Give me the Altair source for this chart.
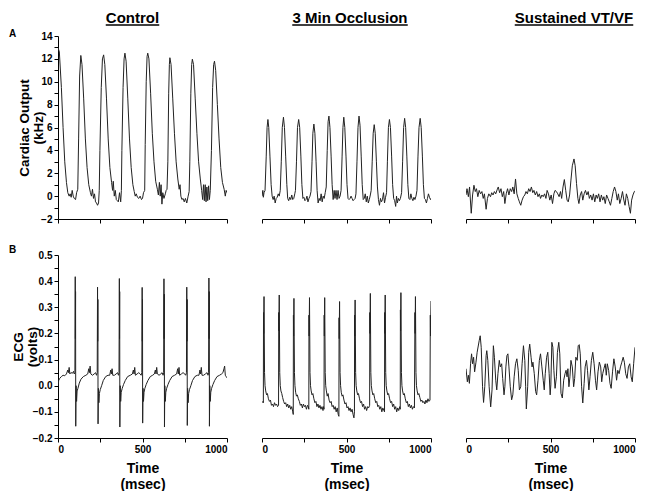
import altair as alt
import pandas as pd

FONT = "Liberation Sans"
LINE = "#222222"

# ---- Cardiac output (kHz) traces: (time ms, value) ----
co_control = [(0,13.0),(8,12.6),(20,9.5),(30,6.0),(40,3.0),(50,1.2),(58,0.3),(66,0.0),(72,0.2),(78,-0.1),(84,0.5),(90,0.0),(96,-0.2),(104,-0.3),(110,0.3),(117,0.6),(122,5.0),(128,10.5),(135,12.3),(142,11.5),(152,8.5),(162,5.0),(172,2.5),(182,1.0),(192,0.3),(198,0.0),(204,0.6),(210,-0.2),(216,0.2),(222,-0.5),(228,-0.6),(234,-0.8),(240,-0.6),(244,0.5),(248,4.0),(256,9.5),(263,12.0),(270,12.35),(277,11.5),(287,8.5),(297,5.0),(307,2.5),(317,1.2),(323,0.5),(327,1.3),(333,0.0),(339,0.5),(345,-0.3),(351,-0.4),(357,-0.5),(364,0.3),(371,-0.5),(375,0.5),(378,4.0),(385,9.5),(391,12.0),(396,12.5),(403,11.8),(413,8.5),(423,5.0),(433,2.5),(443,1.0),(451,0.4),(457,0.0),(463,0.2),(470,-0.1),(478,-0.2),(486,0.0),(494,-0.3),(500,-0.2),(506,0.3),(513,0.5),(516,4.5),(522,10.0),(527,12.2),(531,12.5),(538,12.0),(548,9.0),(558,5.5),(568,3.0),(578,1.3),(588,0.6),(594,0.1),(600,1.2),(605,0.0),(610,1.0),(615,-0.7),(620,0.3),(627,-0.2),(635,0.2),(640,0.5),(645,0.6),(650,3.0),(655,9.0),(659,11.5),(662,12.1),(669,11.5),(679,8.5),(689,5.5),(699,3.0),(709,1.5),(717,0.6),(722,1.0),(727,0.0),(733,-0.3),(740,-0.2),(747,-0.5),(754,-0.2),(762,-0.6),(770,0.0),(776,0.4),(780,3.0),(786,9.0),(791,11.5),(795,11.97),(802,11.5),(812,8.5),(822,5.5),(832,3.0),(842,1.5),(850,0.5),(856,-0.3),(861,1.0),(866,-0.4),(871,1.0),(876,-0.5),(881,0.8),(886,-0.4),(891,0.9),(896,-0.3),(901,0.5),(908,4.0),(915,9.5),(921,11.5),(926,11.8),(933,11.0),(943,8.0),(953,5.0),(963,2.5),(973,1.2),(983,0.6),(990,0.0),(995,0.5),(1000,0.3)]

co_occlusion = [(0,0.0),(5,0.5),(8,-0.1),(12,0.3),(18,0.5),(25,3.5),(30,6.0),(35,6.7),(40,6.0),(47,3.5),(54,1.0),(60,0.0),(66,-0.3),(72,0.0),(78,-0.6),(84,-0.2),(90,-0.1),(96,0.2),(102,0.0),(108,0.5),(114,3.0),(120,6.0),(127,6.9),(133,6.0),(140,3.5),(147,1.0),(152,-0.2),(158,-0.4),(164,-0.1),(170,-0.3),(176,0.1),(182,-0.3),(188,-0.2),(194,0.2),(198,0.5),(204,3.0),(210,6.0),(217,6.7),(223,6.0),(230,3.5),(236,1.0),(242,-0.2),(248,-0.1),(254,-0.4),(260,-0.3),(266,0.0),(272,-0.5),(278,-0.2),(284,0.0),(290,0.4),(296,3.0),(301,5.5),(307,6.3),(313,5.5),(320,3.0),(326,0.5),(332,-0.6),(338,-0.2),(344,-0.4),(350,0.2),(356,-0.5),(362,0.0),(368,-0.2),(374,0.3),(380,0.8),(386,4.0),(391,6.5),(396,7.0),(402,6.0),(409,3.5),(415,1.0),(421,-0.3),(427,0.5),(432,-0.2),(438,0.5),(444,-0.3),(450,0.5),(456,-0.2),(462,0.0),(468,0.5),(474,3.5),(479,6.0),(484,6.9),(490,6.0),(497,3.5),(503,1.0),(509,-0.2),(515,-0.3),(521,-0.2),(527,0.0),(533,-0.2),(539,-0.4),(545,-0.3),(551,-0.2),(556,0.2),(562,3.0),(568,6.0),(574,7.0),(580,6.2),(587,3.5),(593,1.0),(599,-0.3),(605,-0.2),(611,0.2),(617,-0.5),(623,0.0),(629,-0.6),(635,-0.3),(641,0.1),(646,0.5),(652,3.0),(658,5.5),(664,6.25),(670,5.5),(677,3.0),(683,0.8),(689,-0.3),(695,-0.8),(701,-0.2),(707,-0.5),(713,-0.3),(719,0.3),(725,-0.6),(731,-0.1),(737,0.3),(742,3.0),(748,6.0),(754,6.7),(760,6.0),(767,3.5),(773,1.0),(779,-0.2),(785,-0.4),(791,-0.9),(796,0.0),(801,-0.6),(807,-0.2),(813,-0.4),(819,-0.2),(826,0.3),(832,3.0),(838,6.0),(844,6.8),(850,6.0),(857,3.5),(863,1.0),(869,-0.2),(875,-0.3),(881,0.2),(887,-0.2),(893,-0.4),(899,-0.1),(905,-0.3),(911,0.0),(917,0.5),(923,3.5),(929,6.0),(936,6.8),(942,6.0),(949,3.5),(955,1.0),(961,-0.2),(967,-0.3),(973,-0.6),(979,-0.2),(985,0.2),(991,-0.1),(997,-0.3),(1000,-0.2)]

co_vtvf = [(0,0.1),(6,0.65),(14,-0.05),(21,0.8),(31,-1.5),(39,0.1),(47,0.95),(55,0.4),(62,0.65),(70,-0.05),(78,0.5),(86,0.2),(94,0.4),(102,-0.2),(109,0.2),(119,-1.15),(127,-0.2),(135,0.2),(145,-0.05),(152,0.3),(160,0.1),(168,0.4),(176,0.2),(184,0.55),(191,0.8),(199,0.3),(207,0.65),(215,-0.05),(223,0.4),(230,-0.65),(238,0.2),(246,0.65),(254,0.1),(262,0.65),(270,0.4),(277,0.8),(285,0.2),(293,1.5),(301,0.2),(309,-0.2),(316,-0.5),(324,-0.8),(332,-0.35),(340,-0.05),(348,0.1),(355,0.4),(363,0.2),(371,0.65),(379,0.4),(387,0.8),(395,0.3),(402,0.5),(410,0.1),(418,0.4),(426,-0.05),(434,0.2),(441,-0.2),(449,0.1),(457,-0.05),(465,0.2),(473,-0.2),(480,0.5),(488,0.2),(496,-0.35),(504,0.1),(512,-0.65),(520,0.2),(527,0.5),(535,0.4),(543,0.2),(551,-0.05),(559,0.4),(566,-0.2),(574,0.8),(582,1.45),(590,0.5),(598,-0.35),(605,-0.5),(613,0.1),(621,1.4),(629,2.65),(639,3.25),(646,2.65),(654,1.1),(662,-0.2),(668,-0.65),(676,0.1),(684,0.4),(691,-0.35),(699,0.2),(707,0.5),(715,0.1),(723,0.4),(730,-0.2),(738,0.1),(746,-0.35),(754,0.2),(762,-0.5),(770,0.1),(777,-0.2),(785,0.2),(793,-0.5),(801,0.1),(809,-0.35),(816,-0.05),(824,-0.65),(832,0.1),(840,-0.2),(848,-0.5),(855,-0.8),(863,-0.2),(871,0.4),(879,0.8),(887,0.4),(895,-0.35),(902,0.2),(910,-0.65),(918,-0.2),(926,0.4),(934,-0.35),(941,-0.8),(949,0.2),(957,-0.2),(965,-0.9),(973,-1.5),(980,-0.35),(988,0.1),(996,0.4),(1000,0.45)]

# ---- ECG (volts) traces ----
ecg_control = [(0,0.0),(4,0.02),(10,0.028),(20,0.035),(30,0.04),(40,0.038),(50,0.045),(58,0.06),(62,0.05),(66,0.07),(70,0.045),(76,0.05),(86,0.048),(92,0.055),(96,0.045),(100,0.05),(102,0.417),(103,0.18),(104,0.36),(105,-0.155),(107,0.0),(110,-0.06),(113,-0.02),(118,-0.01),(126,0.01),(136,0.025),(150,0.035),(165,0.04),(176,0.045),(182,0.065),(186,0.05),(190,0.075),(194,0.045),(204,0.04),(214,0.045),(222,0.05),(228,0.04),(232,0.05),(234,0.377),(235,0.17),(236,0.33),(237,-0.146),(239,-0.01),(242,-0.065),(245,-0.03),(250,-0.015),(258,0.0),(268,0.02),(282,0.035),(296,0.04),(306,0.04),(312,0.06),(316,0.045),(320,0.065),(324,0.04),(334,0.04),(344,0.045),(352,0.05),(358,0.04),(361,0.05),(363,0.41),(364,0.18),(365,0.36),(366,-0.158),(368,0.0),(371,-0.06),(374,-0.025),(380,-0.01),(388,0.005),(398,0.02),(412,0.035),(428,0.04),(440,0.045),(446,0.06),(450,0.045),(454,0.07),(458,0.04),(468,0.045),(478,0.05),(486,0.045),(492,0.04),(496,0.05),(498,0.376),(499,0.17),(500,0.33),(501,-0.143),(503,-0.01),(506,-0.06),(509,-0.025),(514,-0.01),(522,0.005),(532,0.02),(546,0.035),(560,0.04),(570,0.045),(576,0.06),(580,0.045),(584,0.07),(588,0.045),(598,0.04),(608,0.045),(616,0.05),(622,0.04),(625,0.05),(627,0.409),(628,0.18),(629,0.35),(630,-0.158),(632,0.0),(635,-0.06),(638,-0.025),(643,-0.01),(651,0.005),(661,0.02),(675,0.035),(690,0.04),(702,0.045),(708,0.065),(712,0.045),(716,0.07),(720,0.04),(730,0.045),(740,0.05),(750,0.045),(756,0.04),(760,0.05),(762,0.377),(763,0.17),(764,0.33),(765,-0.152),(767,-0.01),(770,-0.065),(773,-0.03),(778,-0.015),(786,0.0),(796,0.02),(810,0.035),(824,0.04),(834,0.04),(840,0.06),(844,0.045),(848,0.07),(852,0.04),(862,0.04),(872,0.045),(882,0.05),(888,0.04),(891,0.05),(893,0.412),(894,0.18),(895,0.36),(896,-0.155),(898,0.0),(901,-0.06),(904,-0.025),(909,-0.01),(917,0.005),(927,0.02),(941,0.035),(956,0.04),(968,0.045),(976,0.05),(982,0.065),(986,0.075),(990,0.04),(995,0.035),(1000,0.03)]

ecg_occlusion = [(0,-0.065),(6,-0.06),(8,-0.065),(9,0.28),(10,0.2),(12,0.341),(15,0.05),(18,0.0),(22,-0.02),(27,-0.035),(32,-0.03),(38,-0.05),(44,-0.06),(50,-0.055),(56,-0.075),(62,-0.07),(68,-0.08),(74,-0.065),(80,-0.075),(86,-0.07),(92,-0.08),(98,-0.075),(99,0.28),(100,0.21),(102,0.347),(105,0.05),(108,0.0),(112,-0.02),(117,-0.03),(122,-0.045),(128,-0.06),(134,-0.07),(140,-0.065),(146,-0.08),(152,-0.07),(158,-0.085),(164,-0.075),(170,-0.09),(176,-0.08),(182,-0.1),(185,-0.11),(186,0.27),(187,0.19),(189,0.334),(192,0.05),(195,0.0),(199,-0.025),(204,-0.04),(209,-0.035),(215,-0.05),(221,-0.06),(227,-0.075),(233,-0.07),(239,-0.085),(245,-0.07),(251,-0.08),(257,-0.075),(263,-0.09),(269,-0.075),(274,-0.08),(277,-0.09),(278,0.27),(279,0.19),(281,0.337),(284,0.05),(287,0.0),(291,-0.02),(296,-0.035),(301,-0.03),(307,-0.05),(313,-0.065),(319,-0.06),(325,-0.08),(331,-0.07),(337,-0.085),(343,-0.075),(349,-0.09),(355,-0.08),(361,-0.095),(364,-0.08),(367,-0.09),(368,0.27),(369,0.19),(371,0.337),(374,0.05),(377,0.0),(381,-0.02),(386,-0.04),(391,-0.03),(397,-0.055),(403,-0.065),(409,-0.06),(415,-0.08),(421,-0.075),(427,-0.09),(433,-0.08),(439,-0.1),(445,-0.085),(451,-0.11),(455,-0.117),(456,0.26),(457,0.18),(459,0.322),(462,0.05),(465,0.0),(469,-0.025),(474,-0.04),(479,-0.035),(485,-0.055),(491,-0.07),(497,-0.065),(503,-0.085),(509,-0.08),(515,-0.095),(521,-0.085),(527,-0.1),(533,-0.09),(539,-0.11),(544,-0.123),(547,-0.1),(548,0.27),(549,0.19),(551,0.328),(554,0.05),(557,0.0),(561,-0.02),(566,-0.035),(571,-0.03),(577,-0.05),(583,-0.065),(589,-0.06),(595,-0.08),(601,-0.07),(607,-0.09),(613,-0.08),(619,-0.095),(625,-0.08),(631,-0.085),(637,-0.075),(638,0.28),(639,0.2),(641,0.353),(644,0.05),(647,0.0),(651,-0.02),(656,-0.035),(661,-0.03),(667,-0.05),(673,-0.065),(679,-0.06),(685,-0.08),(691,-0.075),(697,-0.09),(703,-0.08),(709,-0.1),(715,-0.085),(721,-0.095),(725,-0.1),(726,0.28),(727,0.2),(729,0.347),(732,0.05),(735,0.0),(739,-0.02),(744,-0.035),(749,-0.03),(755,-0.05),(761,-0.065),(767,-0.06),(773,-0.08),(779,-0.07),(785,-0.09),(791,-0.08),(797,-0.1),(803,-0.085),(809,-0.095),(815,-0.08),(818,-0.09),(819,0.29),(820,0.21),(822,0.356),(825,0.05),(828,0.0),(832,-0.02),(837,-0.035),(842,-0.03),(848,-0.05),(854,-0.065),(860,-0.06),(866,-0.08),(872,-0.07),(878,-0.085),(884,-0.075),(890,-0.09),(896,-0.08),(902,-0.085),(905,0.28),(906,0.2),(908,0.341),(911,0.05),(914,0.0),(918,-0.02),(923,-0.035),(928,-0.03),(934,-0.045),(940,-0.06),(946,-0.055),(952,-0.065),(958,-0.06),(964,-0.07),(970,-0.055),(976,-0.065),(982,-0.05),(988,-0.06),(994,-0.055),(996,0.27),(997,0.19),(1000,0.324)]

ecg_vtvf = [(0,0.065),(8,0.015),(14,0.040),(20,0.009),(27,0.084),(33,0.122),(39,0.084),(45,0.109),(51,0.053),(59,0.090),(66,0.128),(78,0.172),(84,0.191),(90,0.147),(98,-0.004),(104,-0.064),(111,-0.004),(119,0.115),(123,0.134),(129,0.097),(137,-0.004),(146,-0.081),(154,-0.016),(162,0.153),(168,0.109),(176,0.021),(182,-0.016),(189,0.046),(197,0.097),(203,0.072),(211,0.084),(217,0.028),(225,-0.035),(230,-0.004),(236,0.072),(242,0.115),(248,0.122),(254,0.072),(262,-0.004),(270,-0.054),(277,-0.035),(285,0.034),(293,0.084),(301,0.103),(309,0.059),(316,-0.016),(324,-0.004),(332,0.084),(340,0.153),(348,0.097),(353,-0.004),(357,-0.089),(365,-0.004),(371,0.128),(377,0.159),(385,0.109),(391,0.072),(396,0.090),(404,0.046),(412,-0.022),(418,-0.035),(426,0.021),(434,0.097),(441,0.122),(449,0.072),(457,0.021),(463,-0.016),(469,0.046),(477,0.109),(484,0.128),(492,0.046),(498,-0.035),(502,0.003),(508,0.166),(514,0.147),(520,0.059),(527,-0.010),(535,0.034),(541,0.128),(549,0.166),(555,0.122),(562,-0.029),(570,-0.047),(578,0.021),(586,0.046),(592,0.059),(598,0.034),(603,0.065),(609,-0.004),(615,0.034),(621,0.097),(629,0.072),(637,-0.004),(643,0.028),(650,0.109),(658,0.097),(664,0.153),(670,0.157),(676,0.122),(684,-0.004),(691,-0.066),(699,0.009),(705,0.072),(713,0.097),(719,0.059),(727,-0.016),(734,0.034),(742,0.097),(750,0.128),(758,0.084),(766,0.021),(773,-0.016),(781,0.053),(789,0.090),(797,0.072),(803,0.015),(809,0.046),(816,0.065),(824,0.084),(830,0.040),(836,0.084),(844,0.059),(852,0.009),(859,-0.010),(867,0.053),(875,0.103),(883,0.072),(891,0.021),(898,0.059),(906,0.046),(914,0.072),(922,0.090),(930,0.109),(937,0.090),(945,0.046),(953,0.028),(961,0.072),(969,0.084),(977,0.034),(984,0.015),(992,0.084),(1000,0.147)]

column_titles = ["Control", "3 Min Occlusion", "Sustained VT/VF"]
row_labels = ["A", "B"]
co_ticks = [-2, -1, 0, 1, 2, 3, 4, 5, 6, 7, 8, 9, 10, 11, 12, 13, 14]
ecg_ticks = [-0.2, -0.15, -0.1, -0.05, 0.0, 0.05, 0.1, 0.15, 0.2, 0.25, 0.3, 0.35, 0.4, 0.45, 0.5]
time_ticks = [0, 250, 500, 750, 1000]

W, H = 169, 183
AX = dict(domainColor="black", tickColor="black", domainWidth=1, tickWidth=1,
          grid=False, labelFont=FONT, labelFontSize=10, labelFontWeight="bold",
          labelColor="black", titleFont=FONT, titleFontWeight="bold",
          titleColor="black", labelOverlap=False)


def x_axis(bottom):
    if bottom:
        return alt.Axis(values=time_ticks, tickSize=4, labelPadding=2,
                        labelExpr="datum.value % 500 == 0 ? datum.label : ''",
                        title=["Time", "(msec)"], titleFontSize=14,
                        titleLineHeight=16, titlePadding=7, format="d", **AX)
    return alt.Axis(values=time_ticks, tickSize=4, labels=False, title=None, **AX)


def y_axis(kind):
    if kind == "co":
        return alt.Axis(values=co_ticks, tickSize=4, labelPadding=2,
                        labelExpr="datum.value % 2 == 0 ? datum.label : ''",
                        title=["Cardiac Output", "(kHz)"], titleFontSize=13.5,
                        titleLineHeight=14, titleX=-27, titleBaseline="bottom", **AX)
    if kind == "ecg":
        return alt.Axis(values=ecg_ticks, tickSize=4, labelPadding=2,
                        labelExpr="abs(round(datum.value*100)) % 10 == 0 ? format(datum.value, '.1f') : ''",
                        title=["ECG", "(volts)"], titleFontSize=13.5,
                        titleLineHeight=14, titleX=-33, titleBaseline="bottom", **AX)
    return None


def trace(pairs, ydom, ykind, bottom):
    df = pd.DataFrame(pairs, columns=["t", "v"])
    yax = y_axis(ykind) if ykind else None
    return alt.Chart(df).mark_line(color=LINE, strokeWidth=1, clip=True).encode(
        x=alt.X("t:Q", scale=alt.Scale(domain=[0, 1000], nice=False), axis=x_axis(bottom)),
        y=alt.Y("v:Q", scale=alt.Scale(domain=ydom, nice=False, zero=False), axis=yax),
    )


def text_layer(txt, x, y, size, align="left"):
    return alt.Chart(pd.DataFrame({"s": [txt]})).mark_text(
        align=align, baseline="alphabetic", font=FONT, fontSize=size,
        fontWeight="bold", color="black").encode(
        x=alt.value(x), y=alt.value(y), text="s:N")


def underline(txt, x1, x2, y):
    return alt.Chart(pd.DataFrame({"s": [txt]})).mark_rule(
        color="black", strokeWidth=1.3).encode(
        x=alt.value(x1), x2=alt.value(x2), y=alt.value(y))


title_pos = [(74.5, 53.5), (88, 115.5), (108, 118.5)]


def titled(ch, i):
    cx, w = title_pos[i]
    t = column_titles[i]
    return alt.layer(ch, text_layer(t, cx, -13, 15, "center"),
                     underline(t, cx - w / 2, cx + w / 2, -11))


a1 = alt.layer(titled(trace(co_control, [-2, 14], "co", False), 0),
               text_layer(row_labels[0], -49, 1, 10))
a2 = titled(trace(co_occlusion, [-2, 14], None, False), 1)
a3 = titled(trace(co_vtvf, [-2, 14], None, False), 2)
b1 = alt.layer(trace(ecg_control, [-0.2, 0.5], "ecg", True),
               text_layer(row_labels[1], -49, -2, 10))
b2 = trace(ecg_occlusion, [-0.2, 0.5], None, True)
b3 = trace(ecg_vtvf, [-0.2, 0.5], None, True)

panels = [p.properties(width=W, height=H) for p in [a1, a2, a3, b1, b2, b3]]

chart = alt.concat(*panels, columns=3, spacing={"row": 36, "column": 35},
                   bounds="flush").properties(
    padding={"left": 1, "top": 3, "right": 0, "bottom": 0},
    background="white",
).configure_view(stroke=None)

chart.save("out.html", embed_options={"renderer": "svg", "actions": False})
